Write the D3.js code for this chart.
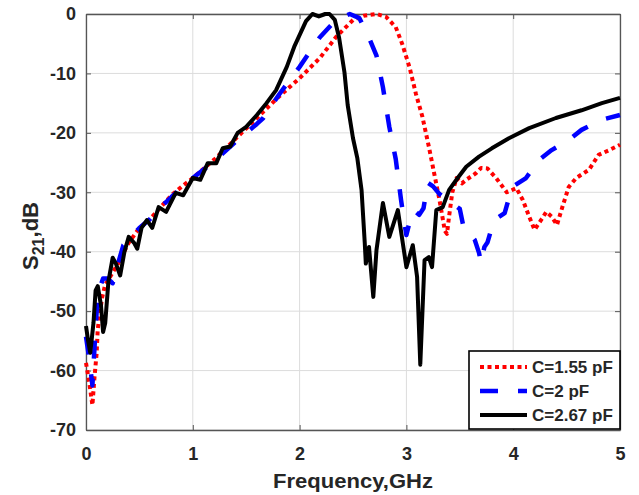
<!DOCTYPE html>
<html>
<head>
<meta charset="utf-8">
<script src="https://cdn.jsdelivr.net/npm/d3@7"></script>
<style>
  body { margin: 0; background: #fff; }
  svg text { font-family: "Liberation Sans", Arial, sans-serif; font-weight: bold; fill: #262626; }
</style>
</head>
<body>
<svg id="chart" width="639" height="495"></svg>
<script>
// S21 curves: [frequency GHz, dB]
var redData = [
  [0.0,-58.7],[0.03,-62],[0.06,-65.8],[0.08,-61],[0.10,-57],[0.11,-53],[0.15,-47.8],[0.18,-45.5],
  [0.2,-45],[0.3,-42],[0.4,-38.5],[0.5,-36],[0.6,-34.5],[0.7,-32.5],[0.8,-30.5],[0.9,-29],
  [1.0,-27.6],[1.2,-24.5],[1.4,-21],[1.6,-17.5],[1.8,-14],[2.0,-10.8],[2.19,-7.4],[2.34,-3.9],
  [2.5,-1],[2.6,-0.3],[2.72,0],[2.81,-0.5],[2.9,-2.2],[2.96,-5],[3.03,-9],[3.09,-13.5],
  [3.15,-17.3],[3.21,-22.3],[3.26,-26.8],[3.31,-31.3],[3.36,-36.5],[3.38,-37],[3.40,-34],
  [3.43,-30],[3.47,-27.6],[3.52,-28.5],[3.56,-27.9],[3.65,-26.8],[3.70,-25.9],[3.76,-26],
  [3.84,-27.6],[3.94,-30],[4.03,-29.3],[4.09,-31.3],[4.15,-34.1],[4.20,-36.3],[4.26,-34.7],
  [4.31,-33.3],[4.36,-34.1],[4.41,-35.5],[4.46,-32.5],[4.52,-29.1],[4.59,-27.6],[4.71,-26.2],
  [4.80,-23.7],[4.90,-22.9],[5.0,-22]
];
var blueData = [
  [0.0,-54.3],[0.03,-58],[0.06,-62.5],[0.08,-56],[0.10,-50],[0.13,-46],[0.16,-44.5],[0.20,-44.5],
  [0.25,-45.3],[0.30,-42],[0.35,-38.9],[0.4,-38],[0.5,-36],[0.6,-34.5],[0.7,-32.5],[0.8,-30.8],
  [0.9,-29.2],[1.0,-27.6],[1.2,-24.8],[1.4,-21.5],[1.6,-18.5],[1.66,-17.5],[1.81,-13.5],[2.0,-8.9],
  [2.19,-3.9],[2.34,-1],[2.47,0],[2.56,-0.7],[2.65,-4],[2.72,-7],[2.78,-12.3],[2.84,-19],
  [2.9,-24.4],[2.95,-31.3],[2.98,-35],[3.0,-37.2],[3.03,-35],[3.07,-33],[3.12,-33.8],[3.16,-32.7],
  [3.20,-28.4],[3.25,-29],[3.31,-30.3],[3.40,-31.5],[3.50,-32.8],[3.54,-36.3],[3.59,-36.9],
  [3.64,-38],[3.68,-40.2],[3.70,-41.9],[3.73,-39.2],[3.76,-38.4],[3.82,-34.7],[3.92,-33.5],
  [3.99,-29.1],[4.12,-27.6],[4.24,-24.6],[4.36,-22.9],[4.52,-21.2],[4.64,-19.5],[4.83,-17.8],[5.0,-17]
];
var blackData = [
  [0.0,-52.5],[0.02,-55],[0.04,-57],[0.07,-52],[0.09,-46.5],[0.11,-45.8],[0.14,-49],[0.16,-53.5],
  [0.18,-52],[0.21,-45],[0.25,-41],[0.28,-42],[0.32,-44],[0.36,-40],[0.40,-37.5],[0.45,-38.5],
  [0.48,-39.5],[0.52,-36],[0.57,-34.7],[0.62,-36],[0.68,-32.5],[0.75,-33.3],[0.84,-30.1],[0.91,-30.5],
  [1.0,-27.6],[1.07,-27.9],[1.14,-25.1],[1.22,-25.1],[1.28,-22.6],[1.35,-22.3],[1.42,-20],[1.5,-19],
  [1.6,-17],[1.69,-15],[1.78,-12.8],[1.88,-8.9],[1.95,-5.5],[2.06,-1.2],[2.12,0],[2.18,-0.4],
  [2.24,0],[2.28,0],[2.33,-1],[2.37,-4],[2.42,-9.8],[2.45,-15.3],[2.50,-20.9],[2.54,-24.2],
  [2.58,-29.6],[2.61,-38.5],[2.62,-42],[2.65,-39.2],[2.69,-47.6],[2.72,-39.7],[2.78,-31.8],
  [2.84,-37.5],[2.92,-33],[3.0,-42.6],[3.06,-38.9],[3.10,-44.2],[3.13,-59],[3.17,-41.4],
  [3.21,-40.9],[3.24,-42.6],[3.28,-33],[3.34,-32.5],[3.40,-29.6],[3.48,-27.6],[3.56,-25.7],
  [3.68,-24],[3.80,-22.6],[3.96,-20.9],[4.15,-19.2],[4.40,-17.5],[4.64,-16.2],[4.83,-15],[5.0,-14.1]
];

var seriesNames = ["C=1.55 pF", "C=2 pF", "C=2.67 pF"];
var seriesColors = ["#ff0000", "#0000ff", "#000000"];
var seriesDash = ["4,3.5", "18,20", null];
var seriesWidth = [4, 4.5, 4];
var xTicks = [0, 1, 2, 3, 4, 5];
var yTicks = [0, -10, -20, -30, -40, -50, -60, -70];

var svg = d3.select("#chart");
var plotLeft = 86, plotRight = 620, plotTop = 14, plotBottom = 430;

var x = d3.scaleLinear().domain([0, 5]).range([plotLeft, plotRight]);
var y = d3.scaleLinear().domain([-70, 0]).range([plotBottom, plotTop]);
var fmt = d => String(d);

// grid
svg.append("g").selectAll("line").data(xTicks).enter().append("line")
  .attr("x1", d => x(d)).attr("x2", d => x(d)).attr("y1", plotTop).attr("y2", plotBottom)
  .attr("stroke", "#dcdcdc").attr("stroke-width", 1);
svg.append("g").selectAll("line").data(yTicks).enter().append("line")
  .attr("x1", plotLeft).attr("x2", plotRight).attr("y1", d => y(d)).attr("y2", d => y(d))
  .attr("stroke", "#dcdcdc").attr("stroke-width", 1);

// axes
var xAxis = svg.append("g").attr("transform", "translate(0," + plotBottom + ")")
  .call(d3.axisBottom(x).tickValues(xTicks).tickFormat(fmt).tickSizeInner(-5).tickSizeOuter(0).tickPadding(17));
var xTop = svg.append("g").attr("transform", "translate(0," + plotTop + ")")
  .call(d3.axisTop(x).tickValues(xTicks).tickSizeInner(-5).tickSizeOuter(0).tickFormat(""));
var yAxis = svg.append("g").attr("transform", "translate(" + plotLeft + ",0)")
  .call(d3.axisLeft(y).tickValues(yTicks).tickFormat(fmt).tickSizeInner(-5).tickSizeOuter(0).tickPadding(10));
var yRight = svg.append("g").attr("transform", "translate(" + plotRight + ",0)")
  .call(d3.axisRight(y).tickValues(yTicks).tickSizeInner(-5).tickSizeOuter(0).tickFormat(""));

[xAxis, xTop, yAxis, yRight].forEach(function (g) {
  g.select(".domain").attr("stroke", "#555").attr("stroke-width", 1.3);
  g.selectAll(".tick line").attr("stroke", "#555");
  g.selectAll(".tick text").attr("font-size", "18px").attr("font-family", "Liberation Sans, Arial, sans-serif")
    .attr("font-weight", "bold").attr("fill", "#262626");
});

// curves
var line = d3.line().x(d => x(d[0])).y(d => y(d[1]));
var allData = [redData, blueData, blackData];
svg.append("g").selectAll("path").data(allData).enter().append("path")
  .attr("d", d => line(d))
  .attr("fill", "none")
  .attr("stroke", (d, i) => seriesColors[i])
  .attr("stroke-width", (d, i) => seriesWidth[i])
  .attr("stroke-dasharray", (d, i) => seriesDash[i])
  .attr("stroke-linejoin", "round");

// labels
svg.append("text").attr("x", (plotLeft + plotRight) / 2).attr("y", 488)
  .attr("text-anchor", "middle").attr("font-size", "21px")
  .attr("textLength", 160).attr("lengthAdjust", "spacingAndGlyphs").text("Frequency,GHz");

var yl = svg.append("text").attr("transform", "translate(38,236) rotate(-90)")
  .attr("text-anchor", "middle").attr("font-size", "22px");
yl.append("tspan").text("S");
yl.append("tspan").attr("font-size", "16px").attr("dy", 6).text("21");
yl.append("tspan").attr("dy", -6).text(",dB");

// legend
var lg = svg.append("g");
lg.append("rect").attr("x", 469).attr("y", 351).attr("width", 151).attr("height", 78)
  .attr("fill", "#fff").attr("stroke", "#000").attr("stroke-width", 1.6);
seriesNames.forEach(function (name, i) {
  var ly = 367 + i * 24;
  lg.append("line").attr("x1", 480).attr("x2", 527).attr("y1", ly).attr("y2", ly)
    .attr("stroke", seriesColors[i]).attr("stroke-width", seriesWidth[i])
    .attr("stroke-dasharray", seriesDash[i]);
  lg.append("text").attr("x", 532).attr("y", ly).attr("dy", "0.35em")
    .attr("font-size", "17px").text(name);
});
</script>
</body>
</html>
